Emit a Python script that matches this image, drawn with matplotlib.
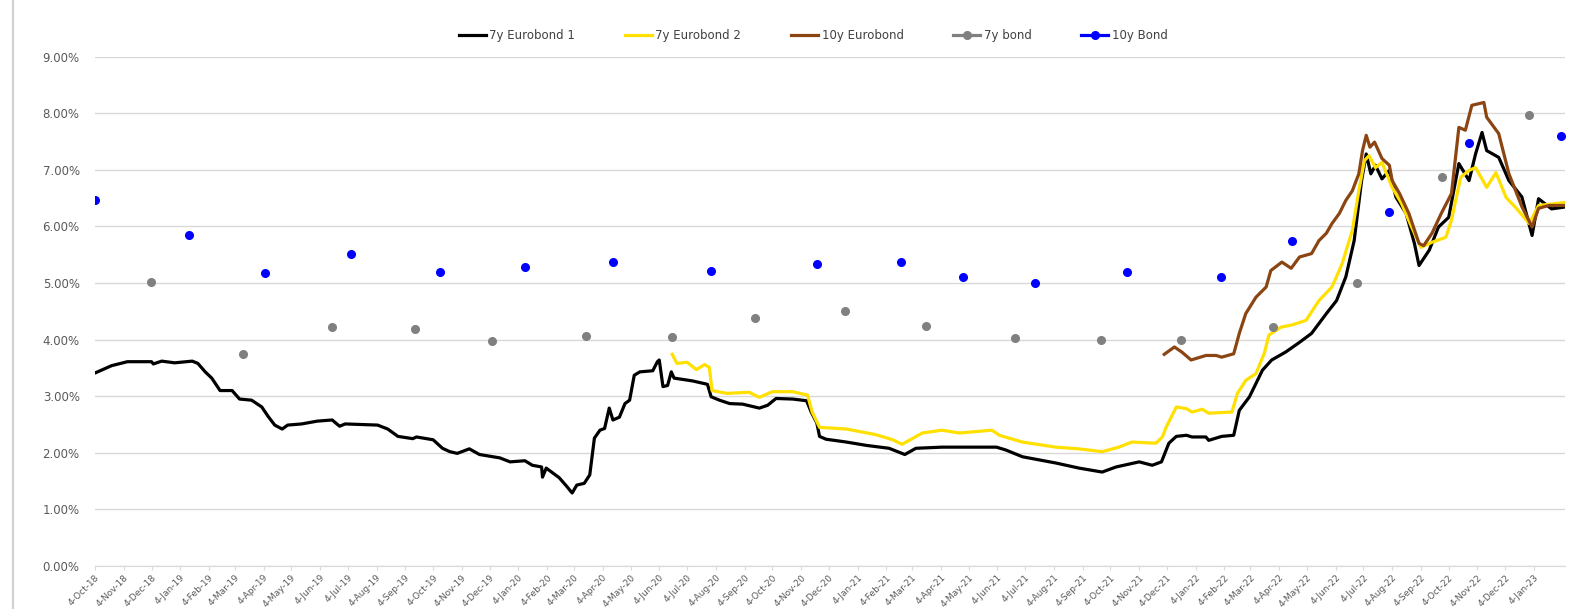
import matplotlib
matplotlib.use("Agg")
import matplotlib.pyplot as plt
import matplotlib.dates as mdates
from matplotlib.ticker import FuncFormatter, MultipleLocator
from matplotlib.patches import Rectangle
from matplotlib.lines import Line2D
import pandas as pd

START = pd.Timestamp("2018-10-04")
LAST_TICK = pd.Timestamp("2023-01-04")

# 7y Eurobond 1 (days after 4-Oct-18, yield %)
eb1_day = [0, 18, 35, 61, 63, 72, 86, 105, 111, 119, 126, 135, 148, 156, 169, 180, 187, 194,
           202, 208, 223, 240, 256, 264, 270, 305, 316, 327, 343, 347, 365, 375, 383, 391, 404,
           415, 437, 448, 464, 472, 482, 483, 487, 501, 509, 515, 520, 528, 534, 539, 545, 550,
           555, 559, 566, 572, 577, 582, 588, 602, 607, 609, 613, 618, 622, 625, 645, 661, 665,
           674, 685, 699, 717, 726, 735, 753, 768, 773, 779, 782, 789, 811, 833, 857, 874, 886,
           914, 933, 973, 983, 1001, 1037, 1062, 1087, 1102, 1127, 1141, 1151, 1159, 1167, 1178,
           1184, 1199, 1202, 1216, 1229, 1235, 1246, 1260, 1270, 1285, 1299, 1313, 1329, 1340,
           1350, 1359, 1367, 1372, 1377, 1382, 1389, 1397, 1404, 1415, 1424, 1429, 1440, 1450,
           1461, 1472, 1483, 1490, 1497, 1502, 1515, 1526, 1540, 1551, 1558, 1572, 1585]
eb1_val = [3.41, 3.54, 3.61, 3.61, 3.57, 3.62, 3.59, 3.62, 3.58, 3.43, 3.32, 3.10, 3.10, 2.95,
           2.93, 2.81, 2.64, 2.49, 2.42, 2.49, 2.51, 2.56, 2.58, 2.47, 2.51, 2.49, 2.42, 2.29,
           2.25, 2.28, 2.23, 2.08, 2.02, 1.99, 2.07, 1.97, 1.91, 1.84, 1.86, 1.78, 1.75, 1.57,
           1.73, 1.56, 1.41, 1.29, 1.43, 1.46, 1.61, 2.26, 2.40, 2.43, 2.79, 2.58, 2.63, 2.87,
           2.93, 3.37, 3.43, 3.45, 3.61, 3.64, 3.17, 3.19, 3.43, 3.32, 3.27, 3.21, 2.99, 2.93,
           2.87, 2.86, 2.79, 2.84, 2.96, 2.95, 2.92, 2.72, 2.53, 2.29, 2.24, 2.19, 2.13, 2.08,
           1.97, 2.08, 2.10, 2.10, 2.10, 2.05, 1.93, 1.82, 1.73, 1.66, 1.75, 1.84, 1.78, 1.84,
           2.17, 2.29, 2.31, 2.28, 2.28, 2.22, 2.29, 2.31, 2.75, 2.99, 3.46, 3.64, 3.78, 3.94,
           4.11, 4.46, 4.69, 5.11, 5.75, 6.81, 7.28, 6.93, 7.08, 6.84, 6.99, 6.52, 6.23, 5.70,
           5.31, 5.58, 5.99, 6.16, 7.11, 6.81, 7.28, 7.66, 7.34, 7.22, 6.81, 6.52, 5.84, 6.49,
           6.31, 6.34]

# 7y Eurobond 2
eb2_day = [623, 628, 639, 649, 658, 663, 666, 682, 706, 717, 731, 753, 769, 774, 782, 811, 843,
           861, 871, 882, 893, 914, 933, 968, 976, 1001, 1037, 1062, 1087, 1105, 1119, 1145,
           1152, 1156, 1167, 1178, 1184, 1195, 1202, 1227, 1233, 1242, 1253, 1262, 1267, 1280,
           1292, 1307, 1321, 1335, 1346, 1357, 1364, 1370, 1375, 1382, 1389, 1400, 1410, 1421,
           1431, 1443, 1458, 1464, 1474, 1483, 1490, 1502, 1512, 1523, 1533, 1548, 1558, 1585]
eb2_val = [3.74, 3.58, 3.60, 3.47, 3.56, 3.51, 3.10, 3.05, 3.07, 2.98, 3.08, 3.08, 3.02, 2.72,
           2.45, 2.42, 2.32, 2.23, 2.15, 2.25, 2.35, 2.40, 2.35, 2.40, 2.31, 2.19, 2.10, 2.07,
           2.02, 2.10, 2.19, 2.17, 2.28, 2.45, 2.81, 2.78, 2.72, 2.77, 2.70, 2.72, 3.05, 3.28,
           3.40, 3.76, 4.08, 4.22, 4.26, 4.34, 4.69, 4.93, 5.34, 5.93, 6.63, 7.16, 7.25, 7.04,
           7.13, 6.69, 6.41, 5.99, 5.63, 5.72, 5.81, 6.11, 6.87, 6.99, 7.04, 6.69, 6.95, 6.51,
           6.34, 6.05, 6.37, 6.42]

# 10y Eurobond
eb10_day = [1154, 1165, 1173, 1183, 1199, 1210, 1216, 1229, 1235, 1242, 1253, 1264, 1269, 1281,
            1291, 1300, 1313, 1321, 1329, 1335, 1343, 1350, 1357, 1364, 1368, 1372, 1376, 1381,
            1389, 1397, 1400, 1408, 1418, 1429, 1434, 1443, 1453, 1464, 1472, 1479, 1486, 1499,
            1502, 1515, 1526, 1540, 1551, 1558, 1569, 1585]
eb10_val = [3.74, 3.87, 3.78, 3.64, 3.72, 3.72, 3.69, 3.75, 4.11, 4.46, 4.75, 4.93, 5.22, 5.37,
            5.26, 5.46, 5.52, 5.75, 5.88, 6.05, 6.23, 6.46, 6.63, 6.93, 7.34, 7.61, 7.40, 7.49,
            7.20, 7.08, 6.81, 6.58, 6.23, 5.70, 5.66, 5.88, 6.23, 6.58, 7.75, 7.70, 8.14, 8.19,
            7.93, 7.64, 6.93, 6.35, 5.99, 6.32, 6.37, 6.37]

# local bonds (auction points)
b7_day = [60, 160, 256, 345, 428, 530, 623, 712, 810, 897, 993, 1086, 1172, 1271, 1362, 1454, 1548]
b7_val = [5.01, 3.75, 4.23, 4.19, 3.97, 4.07, 4.05, 4.38, 4.51, 4.24, 4.02, 4.00, 4.00, 4.22,
          5.00, 6.88, 7.97]
b10_day = [0, 102, 183, 276, 372, 464, 559, 665, 779, 870, 937, 1015, 1114, 1215, 1292, 1397,
           1483, 1582]
b10_val = [6.47, 5.85, 5.18, 5.52, 5.19, 5.28, 5.38, 5.21, 5.33, 5.38, 5.10, 5.00, 5.19, 5.10,
           5.75, 6.25, 7.48, 7.60]


def to_dates(days):
    return START + pd.to_timedelta(days, unit="D")


fig = plt.figure(figsize=(15.7, 6.09), dpi=100)
ax = fig.add_axes([0.0605, 0.0706, 0.936, 0.8364])

lw = 2.3
ax.plot(to_dates(eb1_day), eb1_val, color="black", lw=lw, zorder=3)
ax.plot(to_dates(eb2_day), eb2_val, color="#FFE000", lw=lw, zorder=3)
ax.plot(to_dates(eb10_day), eb10_val, color="#8B4513", lw=lw, zorder=3)
ax.plot(to_dates(b7_day), b7_val, color="#808080", ls="none", marker="o", ms=5.5, zorder=4)
ax.plot(to_dates(b10_day), b10_val, color="#0000FF", ls="none", marker="o", ms=5.5, zorder=4)

ax.set_ylim(0, 9)
ax.set_xlim(START, START + pd.Timedelta(days=1586))
ax.yaxis.set_major_locator(MultipleLocator(1))
ax.yaxis.set_major_formatter(FuncFormatter(lambda v, p: f"{v:.2f}%"))
ax.grid(axis="y", color="#d9d9d9", lw=1)
ax.set_axisbelow(True)

# monthly ticks on the 4th, last one 4-Jan-23
ticks = pd.date_range(START - pd.Timedelta(days=3), LAST_TICK, freq="MS") + pd.Timedelta(days=3)
ax.set_xticks(ticks)
ax.set_xticklabels([f"{d.day}-{d.strftime('%b-%y')}" for d in ticks])
ax.tick_params(axis="x", labelsize=6.5, colors="#595959", length=3, width=0.8,
               color="#d9d9d9", pad=2)
ax.tick_params(axis="y", labelsize=8.5, colors="#595959", length=0, pad=11)
plt.setp(ax.get_xticklabels(), rotation=45, ha="right", rotation_mode="anchor")

for s in ["top", "right", "left"]:
    ax.spines[s].set_visible(False)
ax.spines["bottom"].set_color("#d9d9d9")

handles = [
    Line2D([], [], color="black", lw=lw),
    Line2D([], [], color="#FFE000", lw=lw),
    Line2D([], [], color="#8B4513", lw=lw),
    Line2D([], [], color="#808080", lw=lw, marker="o", ms=5.5),
    Line2D([], [], color="#0000FF", lw=lw, marker="o", ms=5.5),
]
labels = ["7y Eurobond 1", "7y Eurobond 2", "10y Eurobond", "7y bond", "10y Bond"]
fig.legend(handles, labels, loc="center", bbox_to_anchor=(0.518, 0.942), ncol=5,
           frameon=False, fontsize=8.5, handlelength=2.3, columnspacing=4.2,
           handletextpad=0.3, labelcolor="#404040")

fig.patches.append(Rectangle((0.008, -0.01), 1.0, 1.02, transform=fig.transFigure,
                             fill=False, edgecolor="#d0d0d0", lw=1.5))

fig.savefig("out.png", dpi=100)
